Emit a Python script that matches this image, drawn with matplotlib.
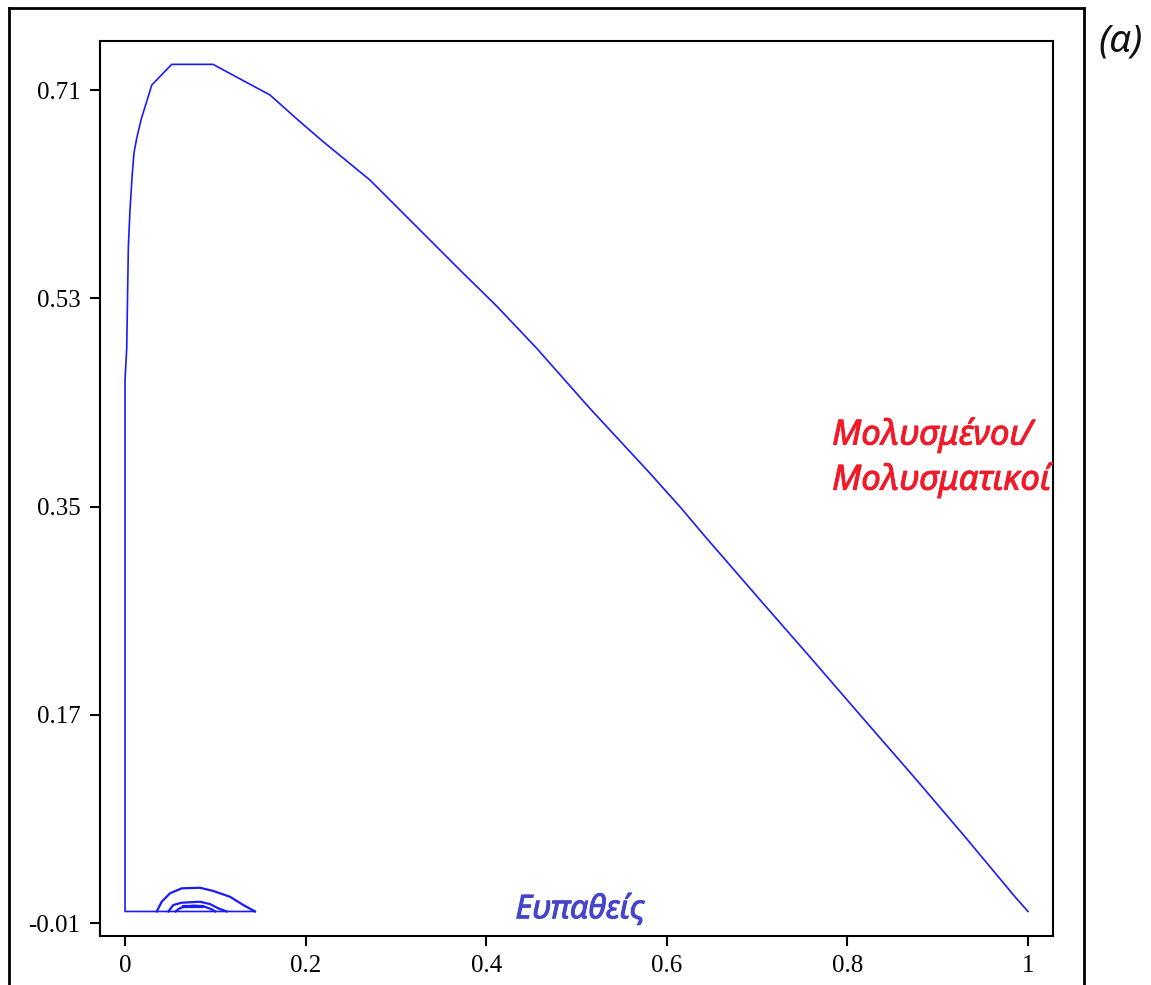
import matplotlib
matplotlib.use("Agg")
import matplotlib.pyplot as plt
from matplotlib.lines import Line2D
import matplotlib.patheffects as pe

# ---- data (S = susceptible fraction, I = infected fraction) ----
main_S = [1.0, 0.9856, 0.9302, 0.8767, 0.8158, 0.7622, 0.7051, 0.6442, 0.6146,
          0.5814, 0.5131, 0.4559, 0.4116, 0.3710, 0.3341, 0.2935, 0.2713,
          0.2196, 0.1938, 0.1606, 0.0975, 0.0517, 0.0296, 0.0240, 0.0180,
          0.0130, 0.0100, 0.0081, 0.0055, 0.0037, 0.0019, 0.0, 0.0, 0.144]
main_I = [0.0, 0.0127, 0.0646, 0.1136, 0.1683, 0.2167, 0.2677, 0.3225, 0.3498,
          0.3787, 0.4363, 0.4868, 0.5233, 0.5544, 0.5832, 0.6149, 0.6322,
          0.6653, 0.6826, 0.7057, 0.7322, 0.7322, 0.7143, 0.7000, 0.6850,
          0.6685, 0.6560, 0.6383, 0.6063, 0.5746, 0.4870, 0.4594, 0.0, 0.0]

outer_S = [0.0351, 0.0406, 0.0498, 0.0628, 0.0831, 0.0978, 0.1163, 0.1310, 0.1440]
outer_I = [0.0, 0.0084, 0.0157, 0.0200, 0.0205, 0.0177, 0.0127, 0.0056, 0.0]

inner_S = [0.0480, 0.0535, 0.0628, 0.0831, 0.0941, 0.1033, 0.1126]
inner_I = [0.0, 0.0056, 0.0076, 0.0084, 0.0064, 0.0027, 0.0]

core_S = [0.0560, 0.0600, 0.0646, 0.0760, 0.0868, 0.0950, 0.1000]
core_I = [0.0, 0.0025, 0.0040, 0.0050, 0.0045, 0.0022, 0.0]

loop_S = [0.0646, 0.0868, 0.0868, 0.0646, 0.0646]
loop_I = [0.0035, 0.0035, 0.0050, 0.0050, 0.0035]

x_ticks = [0, 0.2, 0.4, 0.6, 0.8, 1.0]
x_labels = ["0", "0.2", "0.4", "0.6", "0.8", "1"]
y_ticks = [-0.01, 0.17, 0.35, 0.53, 0.71]
y_labels = ["-0.01", "0.17", "0.35", "0.53", "0.71"]

W, H = 1151, 985
fig = plt.figure(figsize=(W / 100, H / 100), dpi=100)
fig.patch.set_facecolor("white")

ax = fig.add_axes([100 / W, 1 - 936 / H, (1053 - 100) / W, (936 - 41) / H])

blue = "#1a1aff"
ax.plot(main_S, main_I, color=blue, lw=1.2)
for xs, ys in [(outer_S, outer_I), (inner_S, inner_I), (core_S, core_I),
               (loop_S, loop_I)]:
    ax.plot(xs, ys, color=blue, lw=1.6)

ax.set_xlim(-0.0277, 1.0277)
ax.set_ylim(-0.0212, 0.7524)

ax.set_xticks(x_ticks)
ax.set_xticklabels(x_labels)
ax.set_yticks(y_ticks)
ax.set_yticklabels(y_labels)
ax.tick_params(direction="out", length=7, width=1.5, pad=7, labelsize=18)
for lab in ax.get_xticklabels() + ax.get_yticklabels():
    lab.set_fontfamily("Liberation Serif")
for sp in ax.spines.values():
    sp.set_linewidth(1.5)

txt_font = ["Noto Sans", "DejaVu Sans"]
red = "#f01a28"
bold_red = [pe.withStroke(linewidth=0.7, foreground=red)]
ax.text(0.783, 0.412, "Μολυσμένοι/", color=red, fontsize=25,
        fontstyle="italic", family=txt_font, ha="left", va="center",
        path_effects=bold_red)
ax.text(0.783, 0.373, "Μολυσματικοί", color=red, fontsize=25,
        fontstyle="italic", family=txt_font, ha="left", va="center",
        path_effects=bold_red)
purple = "#4444cc"
ax.text(0.504, 0.0015, "Ευπαθείς", color=purple, fontsize=23.5,
        fontstyle="italic", family=txt_font, ha="center", va="center",
        path_effects=[pe.withStroke(linewidth=0.7, foreground=purple)])

# outer frame
fw = 2.0
fig.add_artist(Line2D([9 / W, 9 / W], [0, 1 - 8 / H], color="black", lw=fw,
                      transform=fig.transFigure))
fig.add_artist(Line2D([9 / W, 1084 / W], [1 - 8 / H, 1 - 8 / H], color="black",
                      lw=fw, transform=fig.transFigure))
fig.add_artist(Line2D([1084 / W, 1084 / W], [0, 1 - 8 / H], color="black",
                      lw=fw, transform=fig.transFigure))

fig.text(1121 / W, 1 - 42 / H, "(α)", fontsize=28, fontstyle="italic",
         family=["Noto Sans", "DejaVu Sans"], ha="center", va="center",
         color="#111111")

fig.savefig("out.png", dpi=100)
